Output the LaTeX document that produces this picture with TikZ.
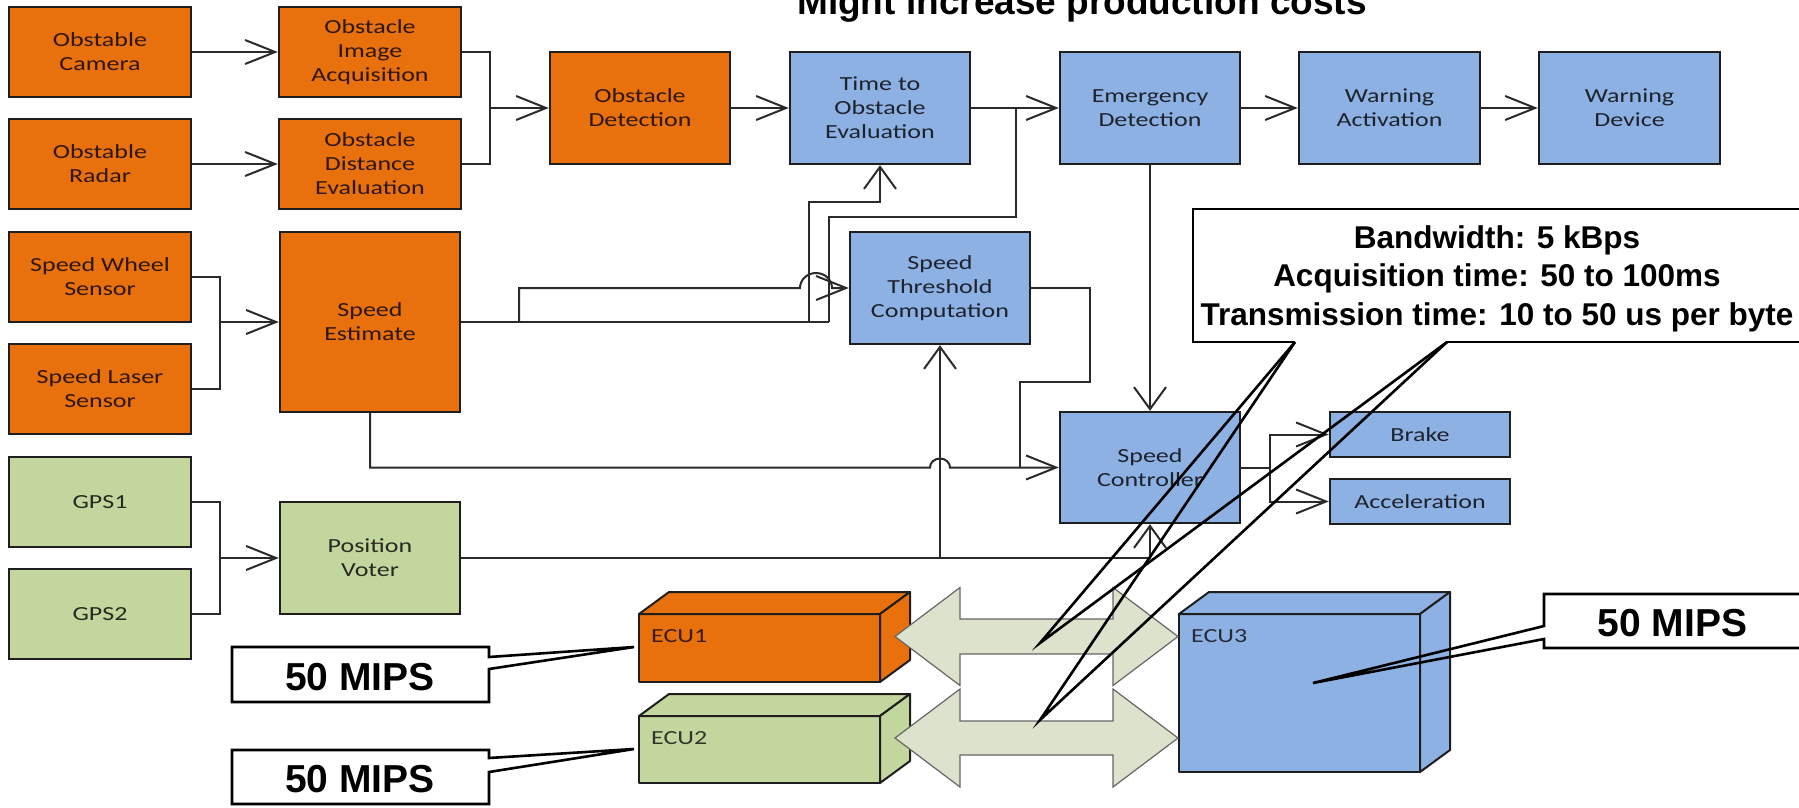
\documentclass[tikz,border=0pt]{standalone}
\usepackage{fontspec}
\usetikzlibrary{arrows.meta}
\newfontfamily\calfam[FakeStretch=1.3]{Carlito}
\newfontfamily\arfam{Liberation Sans}
\newcommand\blkfont{\calfam\fontsize{20}{24}\selectfont}
\newcommand\calloutfont{\arfam\bfseries\fontsize{31.5}{38}\selectfont}
\newcommand\mipsfont{\arfam\bfseries\fontsize{39}{46}\selectfont}
\definecolor{cOr}{HTML}{E8710E}
\definecolor{cBl}{HTML}{8DB1E2}
\definecolor{cGr}{HTML}{C3D69E}
\definecolor{cAr}{HTML}{DCE2CB}
\definecolor{bdr}{HTML}{1E1E1E}
\definecolor{lnc}{HTML}{2A2A2A}
\tikzset{
  blk/.style={draw=bdr, line width=2.4pt, minimum width=182pt, minimum height=90pt,
    inner sep=0pt, align=center, font=\blkfont, text=black, text opacity=0.8},
  tall/.style={minimum width=180pt, minimum height=112pt},
  org/.style={blk, fill=cOr},
  blu/.style={blk, fill=cBl},
  grn/.style={blk, fill=cGr},
  conn/.style={draw=lnc, line width=2pt},
  harr/.style={conn, -{Straight Barb[length=30pt, width=24pt]}},
  varr/.style={conn, -{Straight Barb[length=22pt, width=32pt]}},
  ecu/.style={draw=bdr, line width=2pt, line join=round},
  ecul/.style={font=\blkfont, text=black, text opacity=0.75, anchor=west, inner sep=0pt},
  dbl/.style={fill=cAr, draw=gray!80!black, line width=1.2pt, line join=miter},
  cal/.style={draw=black, line width=2.6pt, line join=miter},
  calt/.style={anchor=base, inner sep=0pt},
}
\begin{document}
\begin{tikzpicture}[x=1pt, y=-1pt]
\useasboundingbox (0,0) rectangle (1799,807);

% title, cut by the top edge
\node[anchor=base, inner sep=0pt, font=\arfam\bfseries\fontsize{37}{44}\selectfont] (ttl) at (1082,14) {Might increase production costs};

% obstacle chain
\node[org] (cam) at (100,52) {Obstable\\Camera};
\node[org] (rad) at (100,164) {Obstable\\Radar};
\node[org] (ima) at (370,52) {Obstacle\\Image\\Acquisition};
\node[org] (dst) at (370,164) {Obstacle\\Distance\\Evaluation};
\node[org, tall] (det) at (640,108) {Obstacle\\Detection};
\node[blu, tall] (toe) at (880,108) {Time to\\Obstacle\\Evaluation};
\node[blu, tall] (emg) at (1150,108) {Emergency\\Detection};
\node[blu, tall, minimum width=181pt] (wac) at (1389.5,108) {Warning\\Activation};
\node[blu, tall, minimum width=181pt] (wdv) at (1629.5,108) {Warning\\Device};

% speed chain
\node[org] (whl) at (100,277) {Speed Wheel\\Sensor};
\node[org] (lsr) at (100,389) {Speed Laser\\Sensor};
\node[org, minimum width=180pt, minimum height=180pt] (spd) at (370,322) {Speed\\Estimate};
\node[blu, tall] (stc) at (940,288) {Speed\\Threshold\\Computation};
\node[blu, minimum width=180pt, minimum height=111pt] (ctl) at (1150,467.5) {Speed\\Controller};
\node[blu, minimum width=180pt, minimum height=45pt] (brk) at (1420,434.5) {Brake};
\node[blu, minimum width=180pt, minimum height=45pt] (acc) at (1420,501.5) {Acceleration};

% position chain
\node[grn] (gp1) at (100,502) {GPS1};
\node[grn] (gp2) at (100,614) {GPS2};
\node[grn, tall] (vot) at (370,558) {Position\\Voter};

% junction points
\coordinate (j1) at (490,108);
\coordinate (j2) at (1016,108);
\coordinate (j3) at (220,322);
\coordinate (j4) at (220,558);
\coordinate (j5) at (1270,467.5);
\coordinate (s1) at (519,322);
\coordinate (s2) at (809,322);
\coordinate (s3) at (829,322);
\coordinate (p1) at (940,558);

% obstacle connectors
\draw[harr] (cam.east) -- (ima.west);
\draw[harr] (rad.east) -- (dst.west);
\draw[conn] (ima.east) -| (j1) |- (dst.east);
\draw[harr] (j1) -- (det.west);
\draw[harr] (det.east) -- (toe.west);
\draw[harr] (toe.east) -- (emg.west);
\draw[harr] (emg.east) -- (wac.west);
\draw[harr] (wac.east) -- (wdv.west);

% speed connectors
\draw[conn] (whl.east) -| (j3) |- (lsr.east);
\draw[harr] (j3) -- (spd.west);
\draw[conn] (spd.east) -- (s3);
\draw[harr] (s1) |- (800,288) arc[start angle=180, end angle=360, x radius=16, y radius=15] -- (stc.west);
\draw[varr] (s2) -- (809,202) -| (toe.south);
\draw[conn] (s3) -- (829,217) -| (j2);
\draw[conn] (stc.east) -| (1090,382) -| (1020,467.5);
\draw[harr] (spd.south) |- (930,467.5) arc[start angle=180, end angle=360, x radius=10, y radius=9] -- (ctl.west);
\draw[varr] (emg.south) -- (ctl.north);
\draw[conn] (ctl.east) -- (j5);
\draw[harr] (j5) |- (brk.west);
\draw[harr] (j5) |- (acc.west);

% position connectors
\draw[conn] (gp1.east) -| (j4) |- (gp2.east);
\draw[harr] (j4) -- (vot.west);
\draw[varr] (vot.east) -| (ctl.south);
\draw[varr] (p1) -- (stc.south);

% ECU1
\filldraw[ecu, fill=cOr] (639,614) rectangle (880,682);
\filldraw[ecu, fill=cOr] (639,614) -- (669,592) -- (910,592) -- (880,614) -- cycle;
\filldraw[ecu, fill=cOr] (880,614) -- (910,592) -- (910,660) -- (880,682) -- cycle;
\node[ecul] (e1) at (651,636) {ECU1};
% ECU2
\filldraw[ecu, fill=cGr] (639,716) rectangle (880,783);
\filldraw[ecu, fill=cGr] (639,716) -- (669,694) -- (910,694) -- (880,716) -- cycle;
\filldraw[ecu, fill=cGr] (880,716) -- (910,694) -- (910,761) -- (880,783) -- cycle;
\node[ecul] (e2) at (651,738) {ECU2};
% ECU3
\filldraw[ecu, fill=cBl] (1179,614) rectangle (1420,772);
\filldraw[ecu, fill=cBl] (1179,614) -- (1209,592) -- (1450,592) -- (1420,614) -- cycle;
\filldraw[ecu, fill=cBl] (1420,614) -- (1450,592) -- (1450,750) -- (1420,772) -- cycle;
\node[ecul] (e3) at (1191,636) {ECU3};

% bus links between the ECUs
\filldraw[dbl] (895,636.5) -- (960,587.5) -- (960,619) -- (1113,619) -- (1113,587.5) -- (1178,636.5)
  -- (1113,685.5) -- (1113,654) -- (960,654) -- (960,685.5) -- cycle;
\filldraw[dbl] (895,738) -- (960,689) -- (960,721) -- (1113,721) -- (1113,689) -- (1178,738)
  -- (1113,787) -- (1113,755) -- (960,755) -- (960,787) -- cycle;

% bus callout
\coordinate (tA) at (1040,643);
\coordinate (tB) at (1040,720);
\fill[white] (1193,209) rectangle (1810,342);
\draw[cal] (1295,342) -- (1193,342) -- (1193,209) -- (1810,209);
\draw[cal] (1447,342) -- (1810,342);
\draw[cal] (1295,342) -- (tA) -- (1447,342);
\draw[cal] (1295,342) -- (tB) -- (1447,342);
\node[calt, font=\calloutfont] (cl1) at (1497,248) {Bandwidth: 5 kBps};
\node[calt, font=\calloutfont] (cl2) at (1497,286.5) {Acquisition time: 50 to 100ms};
\node[calt, font=\calloutfont] (cl3) at (1497,325) {Transmission time: 10 to 50 us per byte};

% processing power callouts
\fill[white] (232,647) rectangle (489,702);
\draw[cal] (489,657) -- (489,647) -- (232,647) -- (232,702) -- (489,702) -- (489,669) -- (634,647) -- cycle;
\node[calt, font=\mipsfont] (m1) at (360,690) {50 MIPS};
\fill[white] (232,750) rectangle (489,804);
\draw[cal] (489,758) -- (489,750) -- (232,750) -- (232,804) -- (489,804) -- (489,772) -- (634,749) -- cycle;
\node[calt, font=\mipsfont] (m2) at (360,792) {50 MIPS};
\fill[white] (1544,594) rectangle (1810,648);
\draw[cal] (1810,594) -- (1544,594) -- (1544,626) -- (1313,683) -- (1544,639) -- (1544,648) -- (1810,648);
\node[calt, font=\mipsfont] (m3) at (1672.5,636) {50 MIPS};
\end{tikzpicture}
\end{document}
